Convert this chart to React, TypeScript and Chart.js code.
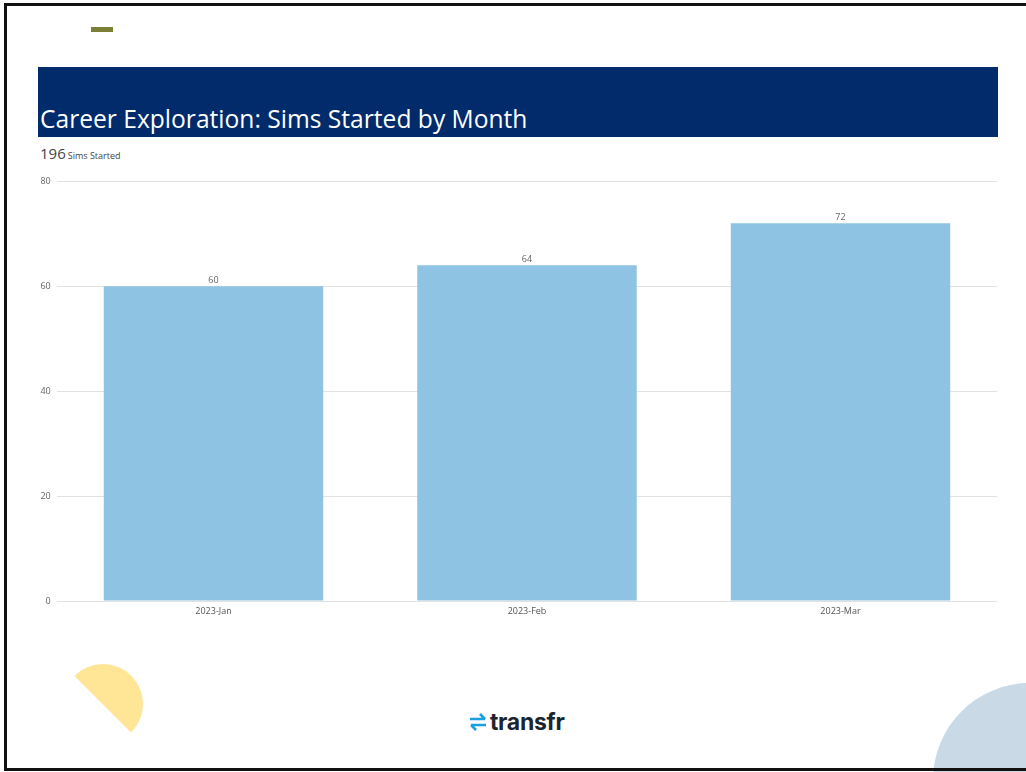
import React, { useEffect, useRef } from "react";
import { Chart, registerables } from "chart.js";

Chart.register(...registerables);

const categories = ["2023-Jan", "2023-Feb", "2023-Mar"];
const simsStarted = [60, 64, 72];
const yTicks = [0, 20, 40, 60, 80];
const totalSims = 196;

const FONT = "'Open Sans', 'Noto Sans', sans-serif";

const valueLabels = {
  id: "valueLabels",
  afterDatasetsDraw(chart: any) {
    const ctx = chart.ctx;
    const meta = chart.getDatasetMeta(0);
    const data = chart.data.datasets[0].data;
    ctx.save();
    ctx.font = `9px ${FONT}`;
    ctx.fillStyle = "#666";
    ctx.textAlign = "center";
    ctx.textBaseline = "bottom";
    meta.data.forEach((bar: any, i: number) => {
      ctx.fillText(String(data[i]), bar.x, bar.y - 1);
    });
    ctx.restore();
  },
};

export default function App() {
  const ref = useRef<HTMLCanvasElement>(null);
  useEffect(() => {
    if (!ref.current) return;
    const chart = new Chart(ref.current, {
      type: "bar",
      data: {
        labels: categories,
        datasets: [
          {
            data: simsStarted,
            backgroundColor: "#8fc3e4",
            categoryPercentage: 1,
            barPercentage: 0.7,
          },
        ],
      },
      options: {
        animation: false,
        responsive: false,
        maintainAspectRatio: false,
        layout: { padding: { top: 11, right: 12.75, left: 0, bottom: 0 } },
        plugins: { legend: { display: false }, tooltip: { enabled: false } },
        scales: {
          x: {
            grid: { display: false, drawTicks: false },
            border: { display: false },
            ticks: { color: "#555", font: { family: FONT, size: 9 }, padding: 5 },
            afterFit(scale: any) {
              scale.height = 29;
            },
          },
          y: {
            min: 0,
            max: 80,
            afterBuildTicks(scale: any) {
              scale.ticks = yTicks.map((v) => ({ value: v }));
            },
            grid: { color: "#e2e2e2", drawTicks: false },
            border: { display: false },
            ticks: { color: "#666", font: { family: FONT, size: 9 }, padding: 6 },
            afterFit(scale: any) {
              scale.width = 56.75;
            },
          },
        },
      },
      plugins: [valueLabels],
    });
    return () => chart.destroy();
  }, []);

  return (
    <div
      style={{
        position: "fixed",
        left: 0,
        top: 0,
        width: 1026,
        height: 772,
        background: "#fff",
        overflow: "hidden",
        fontFamily: FONT,
      }}
    >
      {/* decorative circle bottom right */}
      <div
        style={{
          position: "absolute",
          left: 1030 - 97,
          top: 780 - 97,
          width: 194,
          height: 194,
          borderRadius: "50%",
          background: "#c9d9e6",
        }}
      />
      {/* yellow half disc */}
      <div
        style={{
          position: "absolute",
          left: 103 - 40,
          top: 704 - 40,
          width: 80,
          height: 80,
          borderRadius: "50%",
          background: "linear-gradient(45deg, transparent 50%, #ffe596 50%)",
        }}
      />
      {/* frame */}
      <div
        style={{
          position: "absolute",
          left: 4,
          top: 3,
          width: 1040,
          height: 762,
          border: "3px solid #111",
        }}
      />
      {/* olive bar */}
      <div
        style={{
          position: "absolute",
          left: 91,
          top: 27,
          width: 22,
          height: 5,
          background: "#7a7f35",
        }}
      />
      {/* banner */}
      <div
        style={{
          position: "absolute",
          left: 38,
          top: 67,
          width: 960,
          height: 70,
          background: "#012b6a",
        }}
      />
      <div
        style={{
          position: "absolute",
          left: 40,
          top: 102,
          color: "#fff",
          fontSize: 24.6,
          lineHeight: "34px",
          whiteSpace: "nowrap",
        }}
      >
        Career Exploration: Sims Started by Month
      </div>
      <div
        style={{
          position: "absolute",
          left: 40,
          top: 143,
          color: "#444",
          whiteSpace: "nowrap",
          lineHeight: "20px",
        }}
      >
        <span style={{ fontSize: 15 }}>{totalSims}</span>
        <span style={{ fontSize: 9, marginLeft: 2 }}>Sims Started</span>
      </div>
      <canvas
        ref={ref}
        width={1010}
        height={460}
        style={{ position: "absolute", left: 0, top: 170, width: 1010, height: 460 }}
      />
      {/* logo */}
      <div
        style={{
          position: "absolute",
          left: 468,
          top: 708,
          display: "flex",
          alignItems: "center",
          whiteSpace: "nowrap",
        }}
      >
        <svg width="20" height="20" viewBox="0 0 20 20">
          <path d="M2 7 H17 M12 2 L17 7" stroke="#1aa0e0" strokeWidth="2.6" fill="none" />
          <path d="M18 13 H3 M8 18 L3 13" stroke="#1aa0e0" strokeWidth="2.6" fill="none" />
        </svg>
        <span
          style={{
            fontSize: 23,
            fontWeight: 700,
            color: "#1b2530",
            marginLeft: 2,
            lineHeight: "28px",
            fontFamily: "Inter, 'Open Sans', sans-serif",
            letterSpacing: -0.3,
          }}
        >
          transfr
        </span>
      </div>
    </div>
  );
}
